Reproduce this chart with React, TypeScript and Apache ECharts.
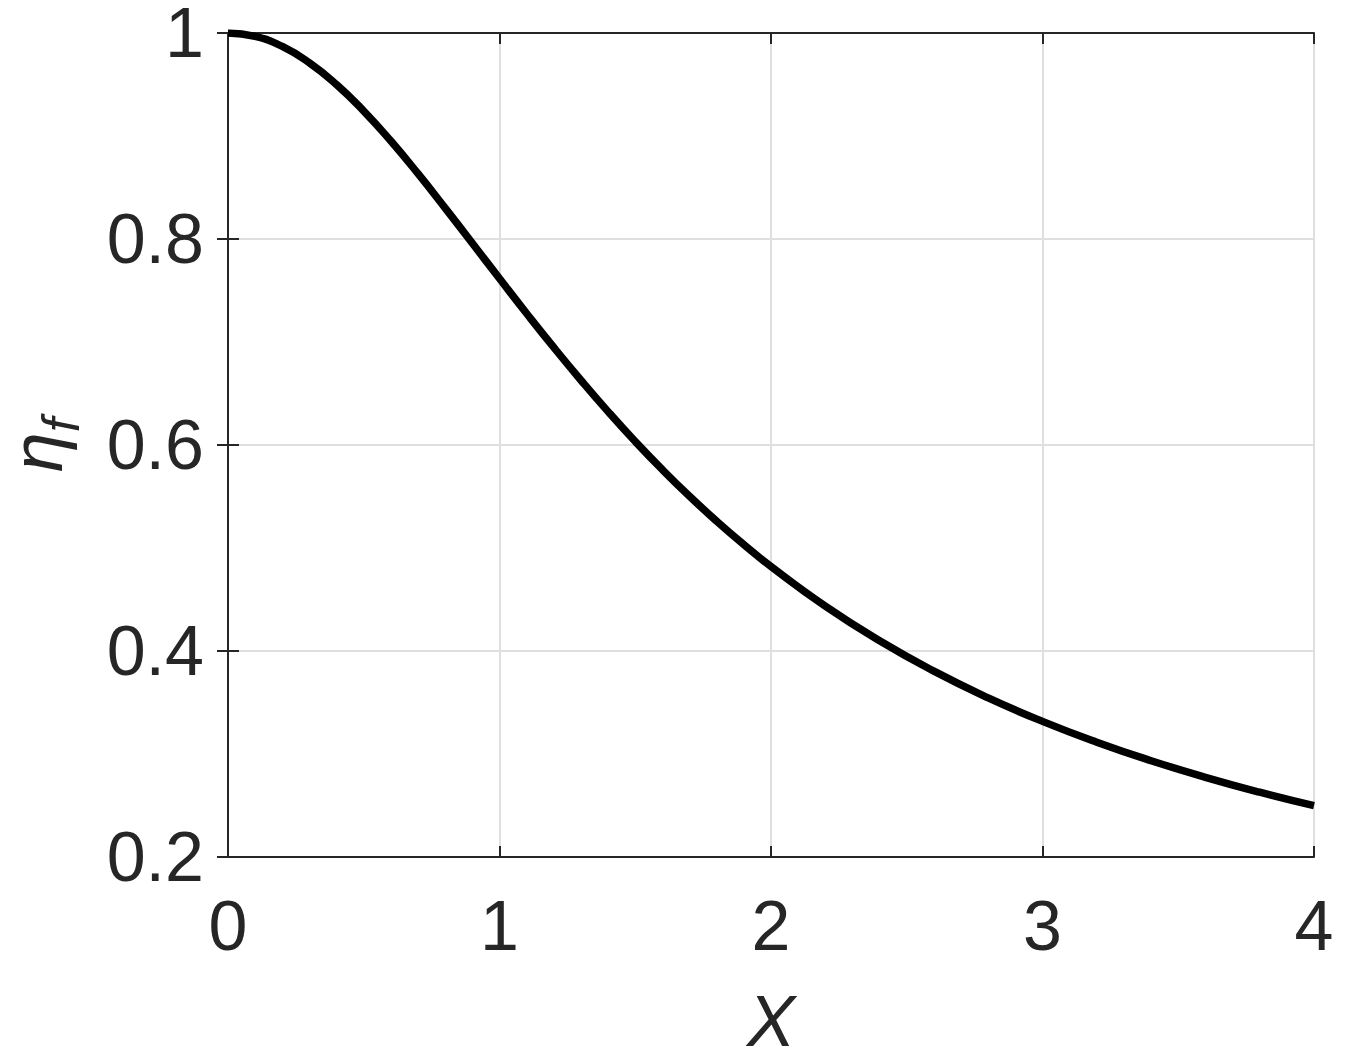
import React, { useEffect, useRef } from "react";
import * as echarts from "echarts";

const xValues = [0, 0.1, 0.2, 0.3, 0.4, 0.5, 0.6, 0.7, 0.8, 0.9, 1.0, 1.1, 1.2, 1.3, 1.4, 1.5, 1.6, 1.7, 1.8, 1.9, 2.0, 2.2, 2.4, 2.6, 2.8, 3.0, 3.2, 3.4, 3.6, 3.8, 4.0];
const etaValues = [1.0, 0.9967, 0.9869, 0.971, 0.9499, 0.9242, 0.8951, 0.8634, 0.83, 0.7959, 0.7616, 0.7277, 0.6947, 0.6629, 0.6324, 0.6034, 0.576, 0.5502, 0.526, 0.5033, 0.482, 0.4435, 0.4099, 0.3804, 0.3545, 0.3317, 0.3115, 0.2935, 0.2774, 0.2629, 0.2498];
const xTicks = [0, 1, 2, 3, 4];
const yTicks = [0.2, 0.4, 0.6, 0.8, 1];

const FONT = "Liberation Sans";
const TXT = "#262626";

export default function App() {
  const ref = useRef<HTMLDivElement>(null);
  useEffect(() => {
    if (!ref.current) return;
    const chart = echarts.init(ref.current, null, { renderer: "svg" });
    const tickStyle = { show: true, inside: true, length: 11, lineStyle: { color: TXT, width: 2 } };
    const lineStyle = { show: true, lineStyle: { color: TXT, width: 2 } };
    const baseX = {
      type: "value",
      min: xTicks[0],
      max: xTicks[xTicks.length - 1],
      interval: 1,
    };
    const baseY = {
      type: "value",
      min: yTicks[0],
      max: yTicks[yTicks.length - 1],
      interval: 0.2,
    };
    chart.setOption({
      animation: false,
      backgroundColor: "#ffffff",
      grid: { left: 228, right: 31, top: 33, bottom: 206, containLabel: false, outerBoundsMode: "none" },
      xAxis: [
        {
          ...baseX,
          position: "bottom",
          axisLine: lineStyle,
          axisTick: tickStyle,
          splitLine: { show: true, lineStyle: { color: "#dfdfdf", width: 2 } },
          axisLabel: {
            color: TXT,
            fontFamily: FONT,
            fontSize: 70,
            margin: 34,
            formatter: (v: number) => String(v),
          },
          name: "X",
          nameLocation: "middle",
          nameGap: 128,
          nameTextStyle: { color: TXT, fontFamily: FONT, fontSize: 72, fontStyle: "italic" },
        },
        {
          ...baseX,
          position: "top",
          axisLine: lineStyle,
          axisTick: tickStyle,
          splitLine: { show: false },
          axisLabel: { show: false },
        },
      ],
      yAxis: [
        {
          ...baseY,
          position: "left",
          axisLine: lineStyle,
          axisTick: tickStyle,
          splitLine: { show: true, lineStyle: { color: "#dfdfdf", width: 2 } },
          axisLabel: {
            color: TXT,
            fontFamily: FONT,
            fontSize: 70,
            lineHeight: 56,
            margin: 24,
            formatter: (v: number) => String(+v.toFixed(1)),
          },
          name: "{e|η}{s|f}",
          nameLocation: "middle",
          nameGap: 155,
          nameRotate: 90,
          nameTextStyle: {
            color: TXT,
            rich: {
              e: { fontFamily: FONT, fontSize: 72, lineHeight: 56, fontStyle: "italic", color: TXT, verticalAlign: "bottom" },
              s: { fontFamily: FONT, fontSize: 52, lineHeight: 40, fontStyle: "italic", color: TXT, verticalAlign: "bottom", padding: [0, 0, -14, 0] },
            },
          },
        },
        {
          ...baseY,
          position: "right",
          axisLine: lineStyle,
          axisTick: tickStyle,
          splitLine: { show: false },
          axisLabel: { show: false },
        },
      ],
      series: [
        {
          type: "line",
          xAxisIndex: 0,
          yAxisIndex: 0,
          data: xValues.map((x, i) => [x, etaValues[i]]),
          smooth: true,
          showSymbol: false,
          symbol: "none",
          lineStyle: { color: "#000000", width: 7.5 },
          z: 5,
        },
      ],
    });
    return () => chart.dispose();
  }, []);
  return <div ref={ref} style={{ width: 1345, height: 1063, position: "absolute", left: 0, top: 0 }} />;
}
